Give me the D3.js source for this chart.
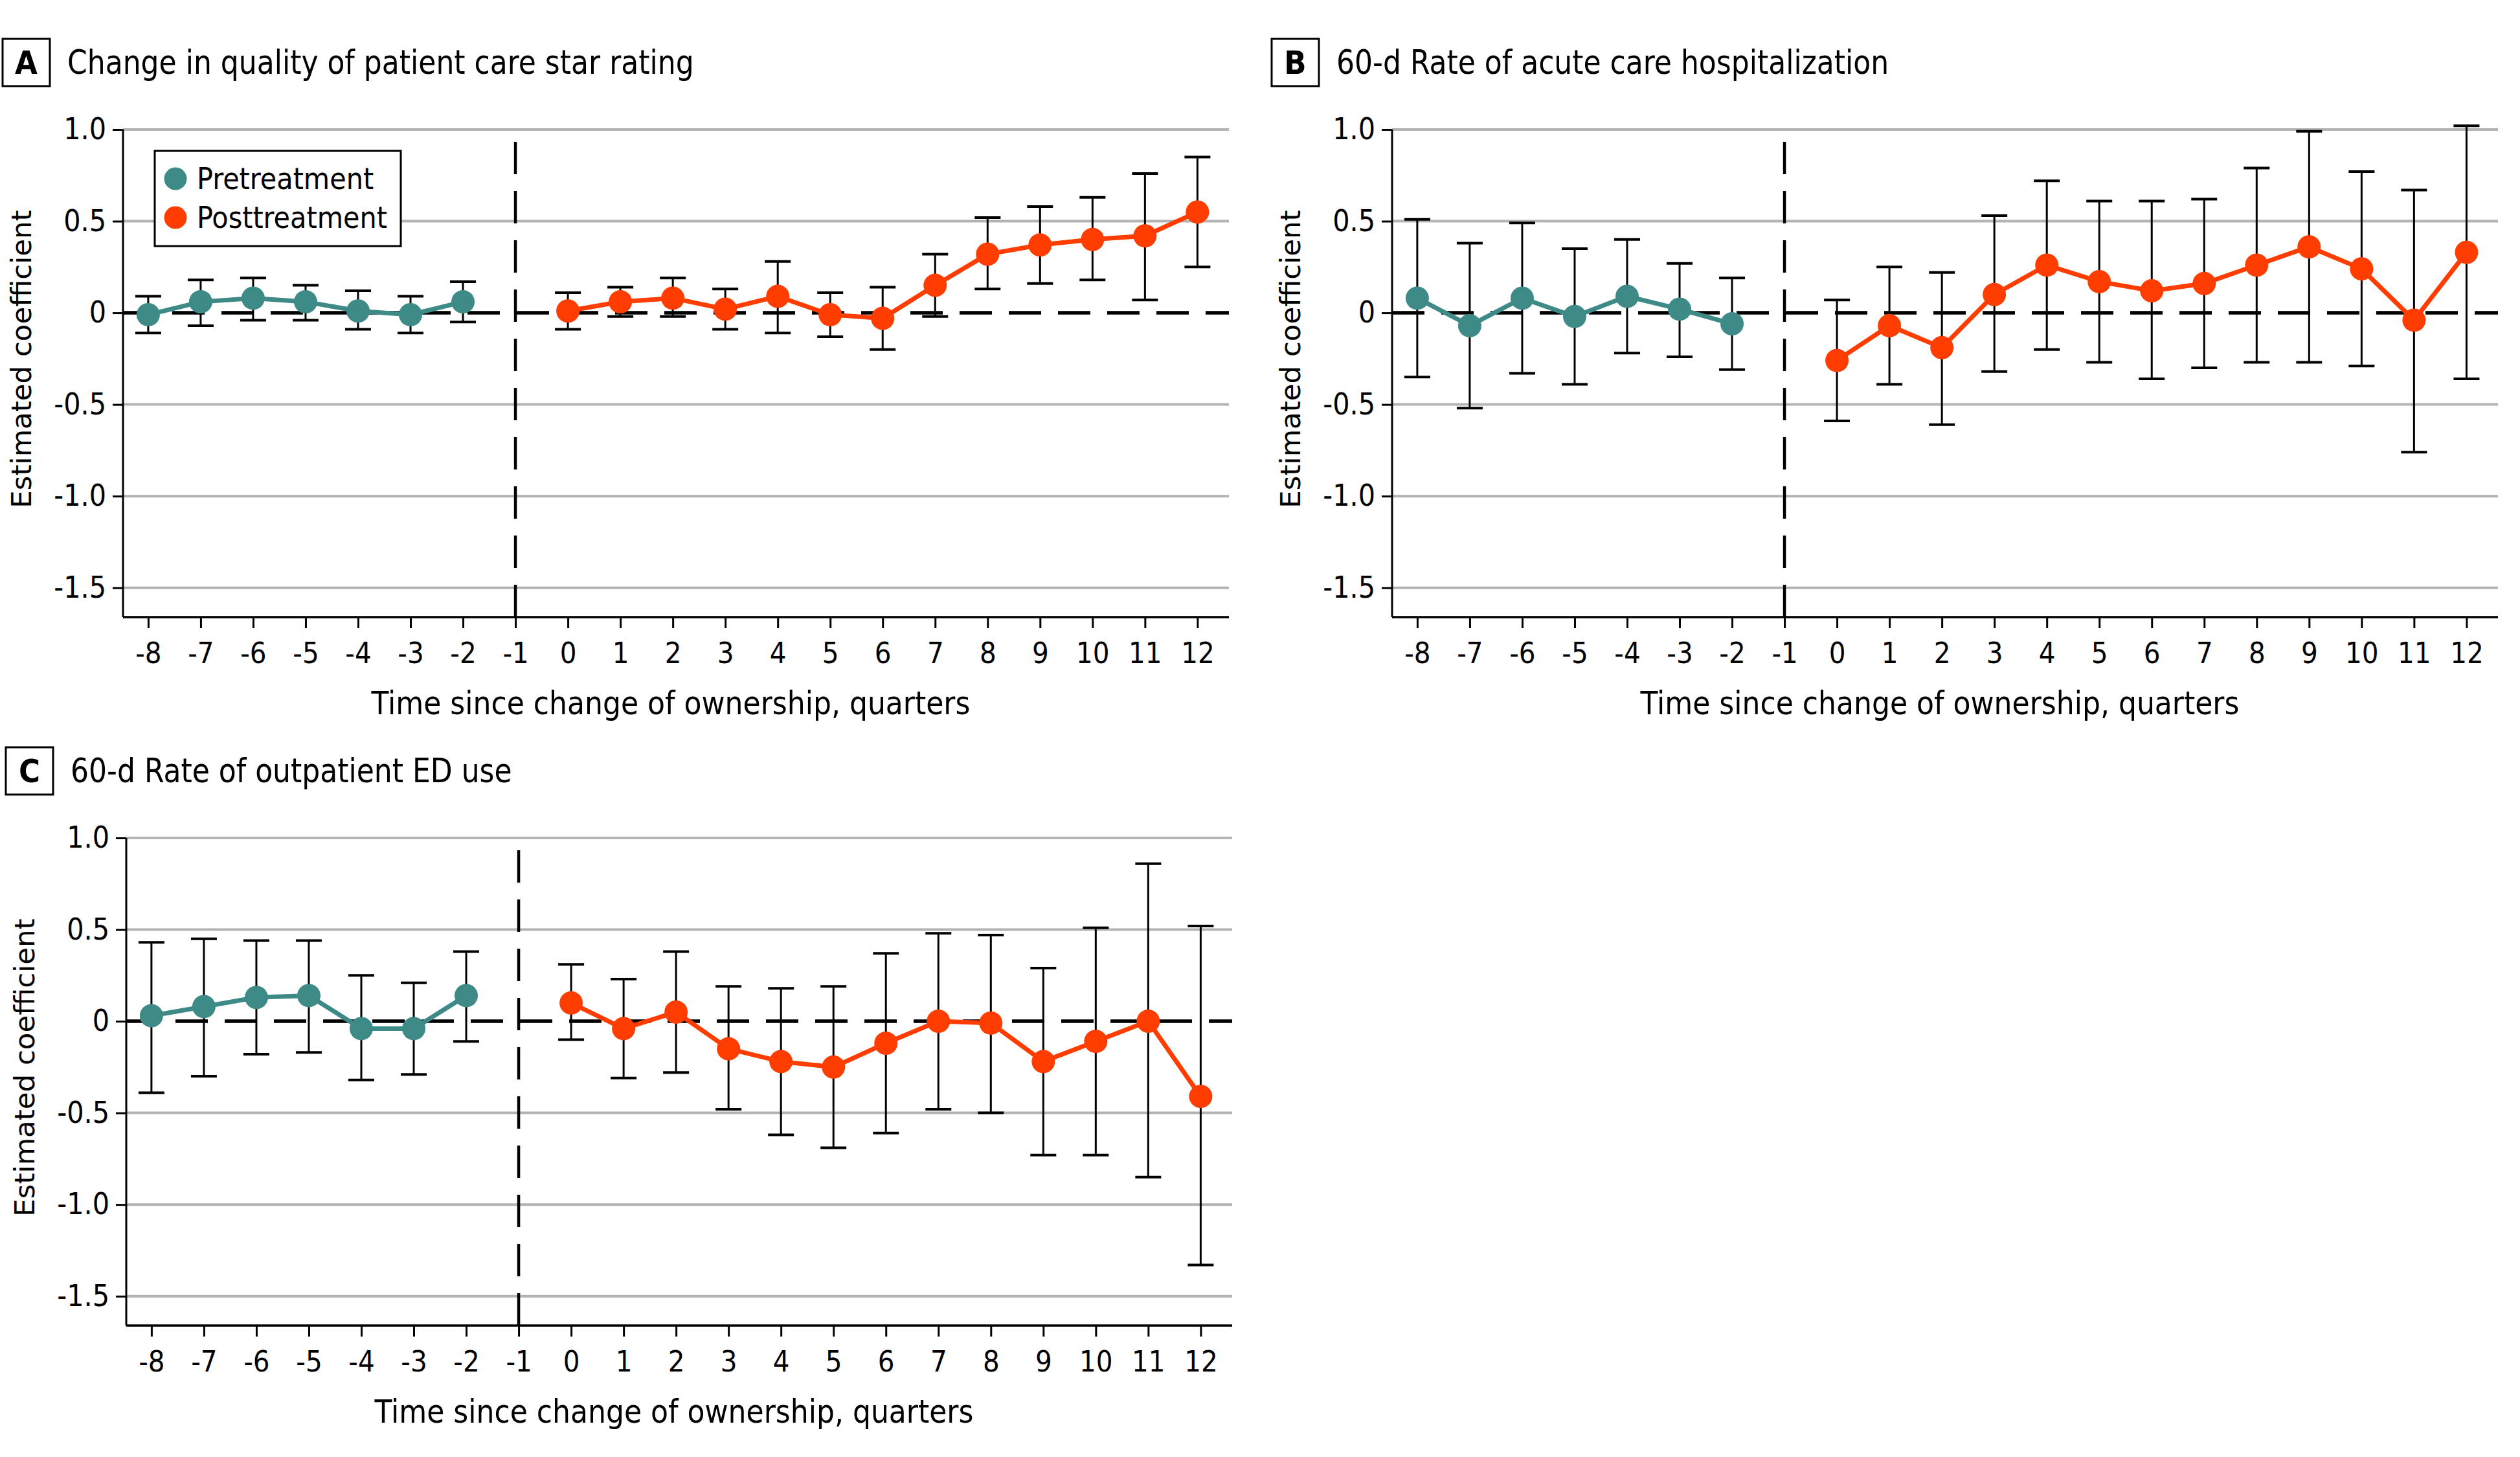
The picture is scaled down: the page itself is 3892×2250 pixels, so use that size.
<!DOCTYPE html>
<html>
<head>
<meta charset="utf-8">
<script src="https://cdn.jsdelivr.net/npm/d3@7"></script>
<style>
  body { margin: 0; background: #fff; }
  svg text { font-family: "Liberation Sans Narrow", "DejaVu Sans Condensed", "Roboto Condensed", sans-serif; }
</style>
</head>
<body>
<svg id="chart" width="3892" height="2250"></svg>
<script>
// quarters relative to change of ownership
const preQuarters = [-8, -7, -6, -5, -4, -3, -2]
const postQuarters = [0, 1, 2, 3, 4, 5, 6, 7, 8, 9, 10, 11, 12]
const xTicks = [-8, -7, -6, -5, -4, -3, -2, -1, 0, 1, 2, 3, 4, 5, 6, 7, 8, 9, 10, 11, 12]
const yTicks = [1.0, 0.5, 0, -0.5, -1.0, -1.5]

// A: star rating
const preEstA = [-0.01, 0.06, 0.08, 0.06, 0.01, -0.01, 0.06]
const preLowA = [-0.11, -0.07, -0.04, -0.04, -0.09, -0.11, -0.05]
const preHighA = [0.09, 0.18, 0.19, 0.15, 0.12, 0.09, 0.17]
const postEstA = [0.01, 0.06, 0.08, 0.02, 0.09, -0.01, -0.03, 0.15, 0.32, 0.37, 0.40, 0.42, 0.55]
const postLowA = [-0.09, -0.02, -0.02, -0.09, -0.11, -0.13, -0.20, -0.02, 0.13, 0.16, 0.18, 0.07, 0.25]
const postHighA = [0.11, 0.14, 0.19, 0.13, 0.28, 0.11, 0.14, 0.32, 0.52, 0.58, 0.63, 0.76, 0.85]

// B: acute care hospitalization
const preEstB = [0.08, -0.07, 0.08, -0.02, 0.09, 0.02, -0.06]
const preLowB = [-0.35, -0.52, -0.33, -0.39, -0.22, -0.24, -0.31]
const preHighB = [0.51, 0.38, 0.49, 0.35, 0.40, 0.27, 0.19]
const postEstB = [-0.26, -0.07, -0.19, 0.10, 0.26, 0.17, 0.12, 0.16, 0.26, 0.36, 0.24, -0.04, 0.33]
const postLowB = [-0.59, -0.39, -0.61, -0.32, -0.20, -0.27, -0.36, -0.30, -0.27, -0.27, -0.29, -0.76, -0.36]
const postHighB = [0.07, 0.25, 0.22, 0.53, 0.72, 0.61, 0.61, 0.62, 0.79, 0.99, 0.77, 0.67, 1.02]

// C: outpatient ED use
const preEstC = [0.03, 0.08, 0.13, 0.14, -0.04, -0.04, 0.14]
const preLowC = [-0.39, -0.30, -0.18, -0.17, -0.32, -0.29, -0.11]
const preHighC = [0.43, 0.45, 0.44, 0.44, 0.25, 0.21, 0.38]
const postEstC = [0.10, -0.04, 0.05, -0.15, -0.22, -0.25, -0.12, 0.00, -0.01, -0.22, -0.11, 0.00, -0.41]
const postLowC = [-0.10, -0.31, -0.28, -0.48, -0.62, -0.69, -0.61, -0.48, -0.50, -0.73, -0.73, -0.85, -1.33]
const postHighC = [0.31, 0.23, 0.38, 0.19, 0.18, 0.19, 0.37, 0.48, 0.47, 0.29, 0.51, 0.86, 0.52]

const panelLetters = ["A", "B", "C"]
const panelTitles = [
    "Change in quality of patient care star rating",
    "60-d Rate of acute care hospitalization",
    "60-d Rate of outpatient ED use"
]
const legendLabels = ["Pretreatment", "Posttreatment"]

const teal = "#3e8a87"
const orange = "#ff3d00"

//utility fxn to zip a series into point objects
const zip = (qs, est, low, high) => qs.map((q, i) => ({q: q, est: est[i], low: low[i], high: high[i]}))

const panels = [
    {pre: zip(preQuarters, preEstA, preLowA, preHighA), post: zip(postQuarters, postEstA, postLowA, postHighA), ox: 0, oy: 0, legend: true},
    {pre: zip(preQuarters, preEstB, preLowB, preHighB), post: zip(postQuarters, postEstB, postLowB, postHighB), ox: 1960, oy: 0, legend: false},
    {pre: zip(preQuarters, preEstC, preLowC, preHighC), post: zip(postQuarters, postEstC, postLowC, postHighC), ox: 5, oy: 1094, legend: false}
]

const svg = d3.select("#chart")

//plot box inside each panel
const plotLeft = 190, plotRight = 1898, plotTop = 200, plotBottom = 953

const xScale = d3.scaleLinear().domain([-8.48, 12.6]).range([plotLeft, plotRight])
const yScale = d3.scaleLinear().domain([-1.66, 1.0]).range([plotBottom, plotTop])

panels.forEach((p, idx) => {
    const g = svg.append("g").attr("transform", `translate(${p.ox},${p.oy})`)

    //panel letter box + title
    g.append("rect").attr("x", 4).attr("y", 60).attr("width", 73).attr("height", 73)
        .attr("fill", "none").attr("stroke", "#000").attr("stroke-width", 3)
    g.append("text").attr("x", 40.5).attr("y", 114).attr("text-anchor", "middle")
        .attr("font-size", 50).attr("font-weight", "bold").text(panelLetters[idx])
    // title squeezed a bit to match the narrow face of the original
    g.append("text").attr("transform", "translate(104,114) scale(0.96,1)")
        .attr("font-size", 51).text(panelTitles[idx])

    //gridlines
    g.append("g").selectAll("line")
        .data(yTicks.filter(d => d !== 0))
        .enter()
        .append("line")
            .attr("x1", plotLeft).attr("x2", plotRight)
            .attr("y1", d => yScale(d)).attr("y2", d => yScale(d))
            .attr("stroke", "#b3b3b3").attr("stroke-width", 4)

    //zero reference line
    g.append("line")
        .attr("x1", plotLeft).attr("x2", plotRight)
        .attr("y1", yScale(0)).attr("y2", yScale(0))
        .attr("stroke", "#000").attr("stroke-width", 5.5)
        .attr("stroke-dasharray", "50,26")

    //change of ownership line at -1, dashes start at the bottom axis
    g.append("line")
        .attr("x1", xScale(-1)).attr("x2", xScale(-1))
        .attr("y1", yScale(-1.66)).attr("y2", yScale(0.94))
        .attr("stroke", "#000").attr("stroke-width", 4.5)
        .attr("stroke-dasharray", "50,26")

    //Y AXIS
    const yAxis = d3.axisLeft(yScale)
        .tickValues(yTicks)
        .tickSize(16)
        .tickPadding(10)
        .tickFormat(d => d === 0 ? "0" : d.toFixed(1))
    const ya = g.append("g").attr("transform", `translate(${plotLeft},0)`).call(yAxis)
    ya.select(".domain").attr("d", `M-0,${plotTop}V${plotBottom}`).attr("stroke-width", 3)
    ya.selectAll(".tick line").attr("stroke-width", 3)
    ya.selectAll(".tick text").attr("font-size", 46).attr("fill", "#000")
        .attr("font-family", "Liberation Sans Narrow, DejaVu Sans Condensed, sans-serif")

    //X AXIS
    const xAxis = d3.axisBottom(xScale)
        .tickValues(xTicks)
        .tickSize(17)
        .tickPadding(22)
        .tickFormat(d => String(d))
    const xa = g.append("g").attr("transform", `translate(0,${plotBottom})`).call(xAxis)
    xa.select(".domain").attr("d", `M${plotLeft},0H${plotRight}`).attr("stroke-width", 3.5)
    xa.selectAll(".tick line").attr("stroke-width", 3)
    xa.selectAll(".tick text").attr("font-size", 45).attr("fill", "#000")
        .attr("font-family", "Liberation Sans Narrow, DejaVu Sans Condensed, sans-serif")

    //axis titles
    g.append("text")
        .attr("x", (plotLeft + plotRight) / 2 - 8).attr("y", 1103)
        .attr("text-anchor", "middle").attr("font-size", 49)
        .text("Time since change of ownership, quarters")
    g.append("text")
        .attr("transform", `translate(48,${(plotTop + plotBottom) / 2 - 22}) rotate(-90)`)
        .attr("text-anchor", "middle").attr("font-size", 43.5)
        .style("font-family", "'DejaVu Sans', Verdana, sans-serif")
        .text("Estimated coefficient")

    //ERROR BARS + LINES + CIRCLES per series
    const line = d3.line().x(d => xScale(d.q)).y(d => yScale(d.est))
    const series = [[p.pre, teal], [p.post, orange]]

    series.forEach(([data]) => {
        const eb = g.append("g").selectAll("g").data(data).enter().append("g")
        eb.append("line")
            .attr("x1", d => xScale(d.q)).attr("x2", d => xScale(d.q))
            .attr("y1", d => yScale(d.low)).attr("y2", d => yScale(d.high))
            .attr("stroke", "#000").attr("stroke-width", 3)
        eb.append("line")
            .attr("x1", d => xScale(d.q) - 20).attr("x2", d => xScale(d.q) + 20)
            .attr("y1", d => yScale(d.high)).attr("y2", d => yScale(d.high))
            .attr("stroke", "#000").attr("stroke-width", 4)
        eb.append("line")
            .attr("x1", d => xScale(d.q) - 20).attr("x2", d => xScale(d.q) + 20)
            .attr("y1", d => yScale(d.low)).attr("y2", d => yScale(d.low))
            .attr("stroke", "#000").attr("stroke-width", 4)
    })

    series.forEach(([data, color]) => {
        g.append("path").datum(data)
            .attr("d", line)
            .attr("fill", "none").attr("stroke", color).attr("stroke-width", 7)
        g.append("g").selectAll("circle")
            .data(data)
            .enter()
            .append("circle")
                .attr("cx", d => xScale(d.q))
                .attr("cy", d => yScale(d.est))
                .attr("r", 18)
                .attr("fill", color)
    })

    //legend only in panel A
    if (p.legend) {
        const lg = g.append("g")
        lg.append("rect").attr("x", 239).attr("y", 233).attr("width", 380).attr("height", 147)
            .attr("fill", "#fff").attr("stroke", "#000").attr("stroke-width", 3)
        legendLabels.forEach((lab, i) => {
            lg.append("circle").attr("cx", 271).attr("cy", 276 + i * 60).attr("r", 17.5)
                .attr("fill", i === 0 ? teal : orange)
            lg.append("text").attr("x", 304).attr("y", 292 + i * 60)
                .attr("font-size", 46).text(lab)
        })
    }
})
</script>
</body>
</html>
